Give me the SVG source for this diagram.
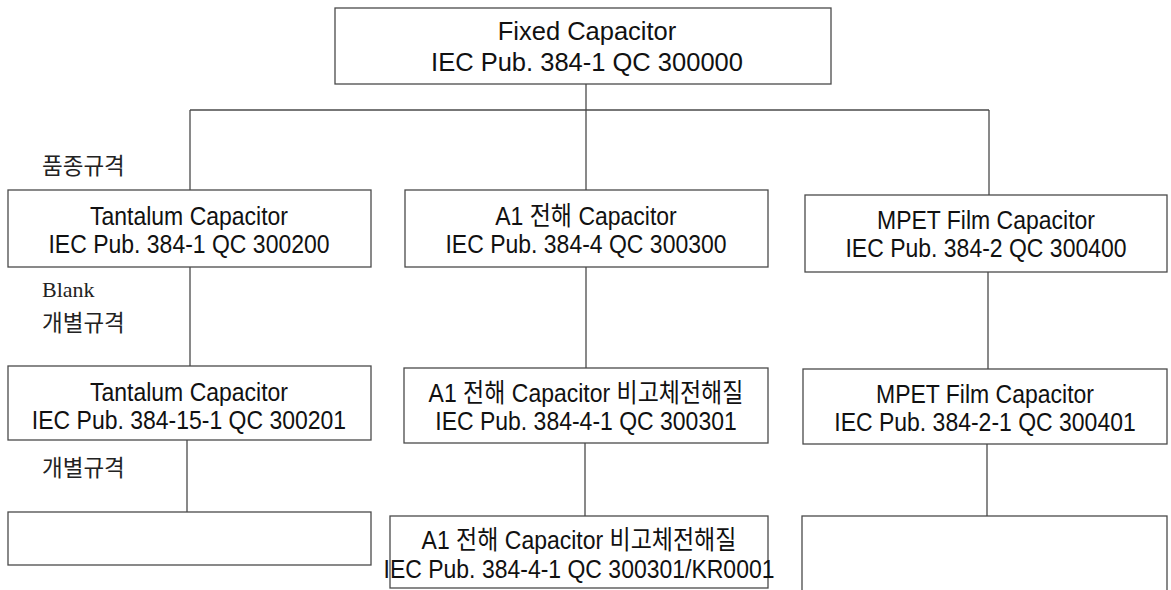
<svg xmlns="http://www.w3.org/2000/svg" width="1171" height="590" viewBox="0 0 1171 590">
<style>
.box{fill:#fff;stroke:#4a4a4a;stroke-width:1.3}
.ln{fill:none;stroke:#4a4a4a;stroke-width:1.3}
.t{font-family:"Liberation Sans","Noto Sans CJK KR",sans-serif;font-size:23px;fill:#111;text-anchor:middle}
.tt{font-family:"Liberation Sans","Noto Sans CJK KR",sans-serif;font-size:25.5px;fill:#111;text-anchor:middle}
.lab{font-family:"Noto Sans CJK KR",sans-serif;font-size:22.5px;fill:#222}
.blank{font-family:"Liberation Serif",serif;font-size:22px;fill:#222}
</style>
<rect width="1171" height="590" fill="#fff"/>
<g id="connectors">
<path class="ln" d="M190,110 H989"/>
<path class="ln" d="M586,84 V190"/>
<path class="ln" d="M190,110 V190"/>
<path class="ln" d="M989,110 V195"/>
<path class="ln" d="M190,267 V366"/>
<path class="ln" d="M586,267 V368"/>
<path class="ln" d="M988,272 V369"/>
<path class="ln" d="M187,440 V512"/>
<path class="ln" d="M585,443 V516"/>
<path class="ln" d="M987,444 V516"/>
</g>
<g id="labels">
<text class="lab" x="42" y="174">품종규격</text>
<text class="blank" x="42" y="297">Blank</text>
<text class="lab" x="42" y="331">개별규격</text>
<text class="lab" x="42" y="476">개별규격</text>
</g>
<g id="n-fixed">
<rect class="box" x="335" y="8" width="496" height="76"/>
<text class="tt" x="587" y="40">Fixed Capacitor</text>
<text class="tt" x="587" y="71">IEC Pub. 384-1 QC 300000</text>
</g>
<g id="n-tant1">
<rect class="box" x="8" y="190" width="363" height="77"/>
<text class="t" transform="translate(189,225) scale(1,1.15)">Tantalum Capacitor</text>
<text class="t" transform="translate(189,253) scale(1,1.15)">IEC Pub. 384-1 QC 300200</text>
</g>
<g id="n-al1">
<rect class="box" x="405" y="190" width="363" height="77"/>
<text class="t" transform="translate(586,225) scale(1,1.15)">A1 전해 Capacitor</text>
<text class="t" transform="translate(586,253) scale(1,1.15)">IEC Pub. 384-4 QC 300300</text>
</g>
<g id="n-mpet1">
<rect class="box" x="805" y="195" width="362" height="77"/>
<text class="t" transform="translate(986,229) scale(1,1.15)">MPET Film Capacitor</text>
<text class="t" transform="translate(986,257) scale(1,1.15)">IEC Pub. 384-2 QC 300400</text>
</g>
<g id="n-tant2">
<rect class="box" x="8" y="366" width="363" height="74"/>
<text class="t" transform="translate(189,401) scale(1,1.15)">Tantalum Capacitor</text>
<text class="t" transform="translate(189,429) scale(1,1.15)">IEC Pub. 384-15-1 QC 300201</text>
</g>
<g id="n-al2">
<rect class="box" x="404" y="368" width="364" height="75"/>
<text class="t" transform="translate(586,402) scale(1,1.15)">A1 전해 Capacitor 비고체전해질</text>
<text class="t" transform="translate(586,430) scale(1,1.15)">IEC Pub. 384-4-1 QC 300301</text>
</g>
<g id="n-mpet2">
<rect class="box" x="803" y="369" width="364" height="75"/>
<text class="t" transform="translate(985,403) scale(1,1.15)">MPET Film Capacitor</text>
<text class="t" transform="translate(985,431) scale(1,1.15)">IEC Pub. 384-2-1 QC 300401</text>
</g>
<g id="n-tant3">
<rect class="box" x="8" y="512" width="363" height="53"/>
</g>
<g id="n-al3">
<rect class="box" x="390" y="516" width="378" height="72"/>
<text class="t" transform="translate(579,549) scale(1,1.15)">A1 전해 Capacitor 비고체전해질</text>
<text class="t" transform="translate(579,578) scale(1,1.15)">IEC Pub. 384-4-1 QC 300301/KR0001</text>
</g>
<g id="n-mpet3">
<rect class="box" x="802" y="516" width="365" height="80"/>
</g>
</svg>
